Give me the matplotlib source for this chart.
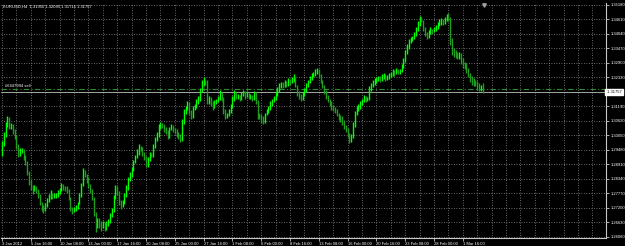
import matplotlib
matplotlib.use("Agg")
import matplotlib.pyplot as plt
import numpy as np

# ---------------- data (EURUSD H4, one value per bar) ----------------
symbol_title = "EURUSD,H4  1.31950 1.32095 1.31716 1.31757"
first_open = 1.2940
closes = [
    1.2975, 1.3010, 1.3050, 1.3075, 1.3040, 1.3045,
    1.3020, 1.3000, 1.2960, 1.2930, 1.2945, 1.2945,
    1.2920, 1.2900, 1.2860, 1.2820, 1.2800, 1.2790,
    1.2800, 1.2790, 1.2770, 1.2740, 1.2720, 1.2715,
    1.2730, 1.2750, 1.2760, 1.2775, 1.2765, 1.2770,
    1.2770, 1.2780, 1.2790, 1.2810, 1.2800, 1.2795,
    1.2790, 1.2760, 1.2720, 1.2710, 1.2715, 1.2720,
    1.2740, 1.2770, 1.2810, 1.2860, 1.2850, 1.2830,
    1.2810, 1.2790, 1.2760, 1.2700, 1.2650, 1.2670,
    1.2660, 1.2645, 1.2660, 1.2640, 1.2660, 1.2665,
    1.2690, 1.2710, 1.2760, 1.2800, 1.2780, 1.2740,
    1.2730, 1.2740, 1.2770, 1.2800, 1.2830, 1.2850,
    1.2870, 1.2900, 1.2920, 1.2940, 1.2960, 1.2955,
    1.2935, 1.2920, 1.2890, 1.2910, 1.2930, 1.2925,
    1.2960, 1.2990, 1.3010, 1.3040, 1.3050, 1.3045,
    1.3030, 1.3020, 1.3000, 1.3030, 1.3040, 1.3030,
    1.3020, 1.3010, 1.3000, 1.2990, 1.3060, 1.3100,
    1.3110, 1.3130, 1.3100, 1.3080, 1.3110, 1.3120,
    1.3140, 1.3150, 1.3180, 1.3210, 1.3220, 1.3215,
    1.3140, 1.3150, 1.3130, 1.3120, 1.3135, 1.3140,
    1.3150, 1.3170, 1.3150, 1.3100, 1.3080, 1.3085,
    1.3100, 1.3120, 1.3150, 1.3170, 1.3160, 1.3160,
    1.3150, 1.3165, 1.3175, 1.3160, 1.3170, 1.3160,
    1.3160, 1.3150, 1.3170, 1.3140, 1.3090, 1.3080,
    1.3075, 1.3060, 1.3090, 1.3100, 1.3110, 1.3130,
    1.3140, 1.3150, 1.3170, 1.3185, 1.3200, 1.3205,
    1.3200, 1.3210, 1.3205, 1.3220, 1.3215, 1.3225,
    1.3230, 1.3200, 1.3170, 1.3160, 1.3150, 1.3165,
    1.3180, 1.3200, 1.3215, 1.3230, 1.3240, 1.3245,
    1.3255, 1.3260, 1.3240, 1.3220, 1.3200, 1.3180,
    1.3160, 1.3145, 1.3130, 1.3120, 1.3110, 1.3105,
    1.3090, 1.3075, 1.3070, 1.3060, 1.3040, 1.3030,
    1.3010, 1.2990, 1.3000, 1.3050, 1.3090, 1.3110,
    1.3120, 1.3130, 1.3140, 1.3150, 1.3145, 1.3150,
    1.3190, 1.3200, 1.3215, 1.3220, 1.3225, 1.3230,
    1.3225, 1.3235, 1.3240, 1.3230, 1.3235, 1.3240,
    1.3245, 1.3255, 1.3250, 1.3262, 1.3255, 1.3258,
    1.3275, 1.3300, 1.3330, 1.3350, 1.3375, 1.3380,
    1.3390, 1.3400, 1.3420, 1.3440, 1.3465, 1.3460,
    1.3425, 1.3405, 1.3395, 1.3410, 1.3420, 1.3415,
    1.3420, 1.3430, 1.3440, 1.3450, 1.3458, 1.3450,
    1.3460, 1.3475, 1.3465, 1.3380, 1.3340, 1.3330,
    1.3325, 1.3315, 1.3320, 1.3300, 1.3285, 1.3280,
    1.3260, 1.3245, 1.3230, 1.3220, 1.3215, 1.3210,
    1.3200, 1.3190, 1.3195, 1.31757,
]
highs = [
    1.2985, 1.3020, 1.3060, 1.3080, 1.3079, 1.3055,
    1.3050, 1.3030, 1.3005, 1.2970, 1.2955, 1.2955,
    1.2950, 1.2930, 1.2905, 1.2865, 1.2830, 1.2810,
    1.2810, 1.2805, 1.2795, 1.2775, 1.2745, 1.2730,
    1.2740, 1.2760, 1.2775, 1.2790, 1.2780, 1.2778,
    1.2780, 1.2790, 1.2800, 1.2820, 1.2815, 1.2805,
    1.2805, 1.2795, 1.2765, 1.2725, 1.2725, 1.2730,
    1.2745, 1.2780, 1.2820, 1.2878, 1.2870, 1.2855,
    1.2840, 1.2815, 1.2795, 1.2765, 1.2705, 1.2680,
    1.2680, 1.2670, 1.2670, 1.2665, 1.2668, 1.2675,
    1.2700, 1.2720, 1.2770, 1.2810, 1.2805, 1.2785,
    1.2750, 1.2750, 1.2780, 1.2810, 1.2840, 1.2860,
    1.2880, 1.2910, 1.2930, 1.2950, 1.2970, 1.2965,
    1.2960, 1.2940, 1.2925, 1.2920, 1.2940, 1.2935,
    1.2970, 1.3000, 1.3020, 1.3050, 1.3060, 1.3055,
    1.3050, 1.3040, 1.3025, 1.3040, 1.3050, 1.3045,
    1.3035, 1.3030, 1.3020, 1.3010, 1.3070, 1.3110,
    1.3120, 1.3140, 1.3135, 1.3105, 1.3120, 1.3130,
    1.3150, 1.3160, 1.3190, 1.3225, 1.3234, 1.3225,
    1.3225, 1.3160, 1.3155, 1.3140, 1.3145, 1.3150,
    1.3160, 1.3185, 1.3175, 1.3155, 1.3110, 1.3095,
    1.3110, 1.3130, 1.3160, 1.3185, 1.3175, 1.3168,
    1.3165, 1.3175, 1.3185, 1.3180, 1.3180, 1.3172,
    1.3168, 1.3165, 1.3180, 1.3175, 1.3145, 1.3095,
    1.3090, 1.3080, 1.3095, 1.3110, 1.3120, 1.3140,
    1.3150, 1.3160, 1.3180, 1.3195, 1.3212, 1.3215,
    1.3215, 1.3222, 1.3218, 1.3230, 1.3228, 1.3235,
    1.3245, 1.3235, 1.3205, 1.3180, 1.3168, 1.3175,
    1.3190, 1.3210, 1.3225, 1.3240, 1.3250, 1.3255,
    1.3265, 1.3270, 1.3265, 1.3245, 1.3225, 1.3205,
    1.3185, 1.3165, 1.3150, 1.3140, 1.3125, 1.3118,
    1.3110, 1.3095, 1.3085, 1.3080, 1.3065, 1.3045,
    1.3035, 1.3015, 1.3010, 1.3060, 1.3100, 1.3120,
    1.3130, 1.3140, 1.3150, 1.3165, 1.3160, 1.3158,
    1.3200, 1.3210, 1.3225, 1.3232, 1.3235, 1.3240,
    1.3240, 1.3245, 1.3252, 1.3245, 1.3242, 1.3250,
    1.3255, 1.3265, 1.3262, 1.3272, 1.3268, 1.3265,
    1.3285, 1.3310, 1.3340, 1.3365, 1.3385, 1.3392,
    1.3398, 1.3410, 1.3430, 1.3455, 1.3475, 1.3470,
    1.3460, 1.3430, 1.3412, 1.3420, 1.3432, 1.3425,
    1.3430, 1.3440, 1.3450, 1.3462, 1.3468, 1.3462,
    1.3470, 1.3482, 1.3486, 1.3470, 1.3390, 1.3350,
    1.3340, 1.3335, 1.3335, 1.3330, 1.3310, 1.3295,
    1.3290, 1.3270, 1.3250, 1.3240, 1.3232, 1.3225,
    1.3218, 1.3210, 1.3205, 1.32095,
]
lows = [
    1.2925, 1.2965, 1.3000, 1.3040, 1.3030, 1.3030,
    1.3010, 1.2990, 1.2950, 1.2920, 1.2925, 1.2935,
    1.2910, 1.2890, 1.2850, 1.2810, 1.2790, 1.2775,
    1.2785, 1.2780, 1.2760, 1.2730, 1.2710, 1.2700,
    1.2710, 1.2725, 1.2745, 1.2755, 1.2755, 1.2760,
    1.2760, 1.2765, 1.2775, 1.2785, 1.2790, 1.2785,
    1.2780, 1.2750, 1.2710, 1.2695, 1.2705, 1.2710,
    1.2715, 1.2735, 1.2765, 1.2805, 1.2840, 1.2820,
    1.2800, 1.2780, 1.2750, 1.2690, 1.2624, 1.2640,
    1.2640, 1.2630, 1.2640, 1.2628, 1.2635, 1.2650,
    1.2660, 1.2685, 1.2705, 1.2755, 1.2770, 1.2730,
    1.2715, 1.2725, 1.2735, 1.2765, 1.2790, 1.2825,
    1.2840, 1.2865, 1.2895, 1.2915, 1.2930, 1.2945,
    1.2925, 1.2910, 1.2880, 1.2880, 1.2905, 1.2920,
    1.2920, 1.2955, 1.2985, 1.3000, 1.3030, 1.3035,
    1.3020, 1.3010, 1.2990, 1.2995, 1.3025, 1.3020,
    1.3010, 1.3000, 1.2990, 1.2980, 1.2985, 1.3050,
    1.3090, 1.3105, 1.3090, 1.3070, 1.3075, 1.3105,
    1.3115, 1.3130, 1.3140, 1.3175, 1.3200, 1.3205,
    1.3130, 1.3130, 1.3120, 1.3105, 1.3115, 1.3130,
    1.3135, 1.3145, 1.3140, 1.3090, 1.3070, 1.3075,
    1.3080, 1.3095, 1.3115, 1.3140, 1.3150, 1.3150,
    1.3140, 1.3145, 1.3160, 1.3150, 1.3155, 1.3150,
    1.3150, 1.3140, 1.3145, 1.3130, 1.3070, 1.3070,
    1.3055, 1.3050, 1.3055, 1.3085, 1.3095, 1.3105,
    1.3120, 1.3135, 1.3145, 1.3160, 1.3175, 1.3190,
    1.3190, 1.3195, 1.3195, 1.3200, 1.3205, 1.3210,
    1.3215, 1.3195, 1.3160, 1.3150, 1.3140, 1.3145,
    1.3160, 1.3175, 1.3195, 1.3210, 1.3225, 1.3235,
    1.3240, 1.3245, 1.3230, 1.3210, 1.3190, 1.3170,
    1.3150, 1.3135, 1.3120, 1.3105, 1.3100, 1.3095,
    1.3080, 1.3065, 1.3060, 1.3045, 1.3030, 1.3020,
    1.3000, 1.2975, 1.2978, 1.2995, 1.3040, 1.3085,
    1.3100, 1.3110, 1.3125, 1.3135, 1.3135, 1.3140,
    1.3145, 1.3180, 1.3195, 1.3205, 1.3212, 1.3218,
    1.3215, 1.3218, 1.3228, 1.3220, 1.3225, 1.3228,
    1.3235, 1.3240, 1.3240, 1.3245, 1.3245, 1.3248,
    1.3255, 1.3270, 1.3295, 1.3325, 1.3345, 1.3370,
    1.3375, 1.3385, 1.3395, 1.3415, 1.3435, 1.3450,
    1.3415, 1.3395, 1.3385, 1.3390, 1.3405, 1.3405,
    1.3410, 1.3415, 1.3425, 1.3435, 1.3440, 1.3440,
    1.3445, 1.3455, 1.3455, 1.3360, 1.3320, 1.3315,
    1.3310, 1.3305, 1.3305, 1.3285, 1.3270, 1.3265,
    1.3250, 1.3235, 1.3215, 1.3205, 1.3200, 1.3198,
    1.3185, 1.3178, 1.3180, 1.31716,
]
time_labels = ["3 Jan 2012", "5 Jan 16:00", "10 Jan 08:00", "13 Jan 00:00",
               "17 Jan 16:00", "20 Jan 08:00", "25 Jan 00:00", "27 Jan 16:00",
               "1 Feb 08:00", "6 Feb 00:00", "8 Feb 16:00", "13 Feb 08:00",
               "16 Feb 00:00", "20 Feb 16:00", "23 Feb 08:00", "28 Feb 00:00",
               "1 Mar 16:00"]
price_labels = [1.35180, 1.34610, 1.34040, 1.33470, 1.32900, 1.32330,
                1.31190, 1.30620, 1.30050, 1.29480, 1.28910, 1.28340,
                1.27770, 1.27200, 1.26630, 1.26060]
bid_price = 1.31757
order_price = 1.31878
order_label = "#6447994 sell"

FONT = "Liberation Sans"
FS = 3.0

closes_a = np.array(closes)
highs_a = np.array(highs)
lows_a = np.array(lows)
opens_a = np.concatenate([[first_open], closes_a[:-1]])
idx = np.arange(len(closes_a))

W, H = 625, 246
fig = plt.figure(figsize=(W / 100, H / 100), dpi=100, facecolor="black")
ax = fig.add_axes([1 / W, 1 - 238 / H, 605 / W, 235 / H], facecolor="black")

ppx = 14.5 / 0.0057
ax.set_ylim(1.26060 - 1 / ppx, 1.35180 + 2 / ppx)
ax.set_xlim(-0.5, 335.5)

grid_kw = dict(color="#8c8c8c", lw=0.6, ls=(0, (1, 2)), zorder=1)
for p in price_labels:
    ax.axhline(p, **grid_kw)
for k in range(0, 42):
    ax.axvline(k * 8, **grid_kw)

up = closes_a >= opens_a
ax.vlines(idx[up], lows_a[up], highs_a[up], colors="#00ff00", lw=1.0, zorder=3)
ax.vlines(idx[~up], lows_a[~up], highs_a[~up], colors="#1f9e1f", lw=1.0, zorder=3)

ax.axhline(order_price, color="#2e8b2e", lw=0.8, ls=(0, (5, 2, 1, 2)), zorder=2)
ax.axhline(bid_price, color="#c0c0c0", lw=0.6, zorder=2)
ax.text(1.5, order_price + 0.0003, order_label, color="white", fontsize=FS,
        family=FONT, va="bottom", ha="left", zorder=4)

# chart-shift marker
ax.plot([len(closes_a)], [0.993], marker="v", ms=2.5, color="#a0a0a0",
        transform=ax.get_xaxis_transform(), clip_on=False, zorder=5)

for s in ["top", "left"]:
    ax.spines[s].set_visible(False)
for s in ["right", "bottom"]:
    ax.spines[s].set_color("#c8c8c8")
    ax.spines[s].set_linewidth(0.8)

ax.yaxis.tick_right()
ax.set_yticks(price_labels)
ax.set_yticklabels([f"{p:.5f}" for p in price_labels], family=FONT)
ax.tick_params(axis="y", colors="#c8c8c8", labelcolor="white", labelsize=FS,
               length=2, width=0.6, pad=1.5)
ax.set_xticks([16 * i for i in range(len(time_labels))])
ax.set_xticklabels(time_labels, ha="left", family=FONT)
ax.tick_params(axis="x", colors="#c8c8c8", labelcolor="white", labelsize=FS,
               length=2, width=0.6, pad=0.8)

ax.text(1.0, bid_price, f" {bid_price:.5f}", transform=ax.get_yaxis_transform(),
        ha="left", va="center", fontsize=FS, family=FONT, color="black",
        bbox=dict(boxstyle="square,pad=0.2", fc="white", ec="white"))

ax.text(0.004, 0.992, symbol_title, transform=ax.transAxes, color="white",
        fontsize=FS, family=FONT, ha="left", va="top")

fig.savefig("out.png", dpi=100, facecolor="black")
